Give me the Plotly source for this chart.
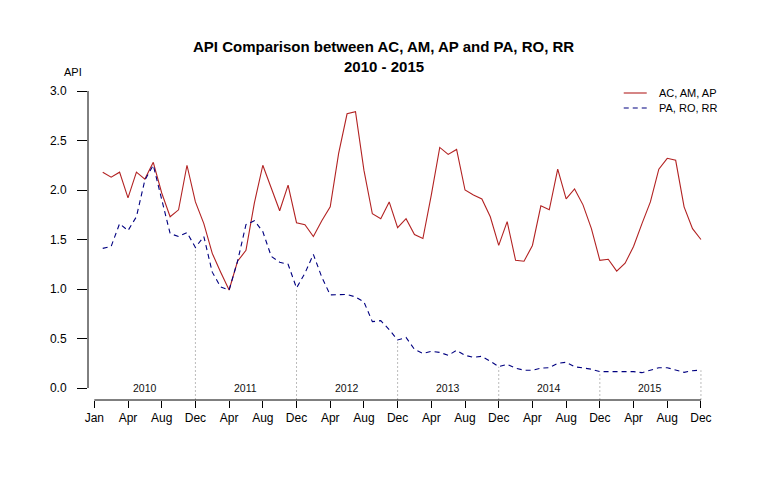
import plotly.graph_objects as go

# ---- data ----
months = list(range(1, 73))
ac_am_ap = [2.18, 2.13, 2.18, 1.92, 2.18, 2.11, 2.28, 1.97, 1.73, 1.80, 2.25, 1.88,
            1.66, 1.36, 1.17, 0.99, 1.28, 1.39, 1.87, 2.25, 2.02, 1.79, 2.05, 1.67,
            1.65, 1.53, 1.69, 1.83, 2.37, 2.77, 2.79, 2.20, 1.76, 1.71, 1.88, 1.62,
            1.71, 1.55, 1.51, 1.95, 2.43, 2.36, 2.41, 2.00, 1.95, 1.91, 1.73, 1.44,
            1.68, 1.29, 1.28, 1.44, 1.84, 1.80, 2.21, 1.91, 2.01, 1.85, 1.61, 1.29,
            1.30, 1.18, 1.26, 1.43, 1.66, 1.88, 2.21, 2.32, 2.30, 1.83, 1.61, 1.50]
pa_ro_rr = [1.41, 1.43, 1.66, 1.59, 1.73, 2.10, 2.25, 1.90, 1.56, 1.53, 1.57, 1.42,
            1.53, 1.17, 1.02, 0.99, 1.28, 1.65, 1.69, 1.58, 1.33, 1.27, 1.25, 1.01,
            1.16, 1.35, 1.12, 0.94, 0.94, 0.945, 0.92, 0.87, 0.67, 0.68, 0.59, 0.485,
            0.51, 0.39, 0.35, 0.37, 0.36, 0.33, 0.38, 0.33, 0.31, 0.32, 0.27, 0.215,
            0.24, 0.20, 0.18, 0.18, 0.20, 0.205, 0.25, 0.26, 0.215, 0.205, 0.19, 0.165,
            0.165, 0.165, 0.165, 0.165, 0.155, 0.18, 0.205, 0.205, 0.18, 0.158, 0.175, 0.18]
tick_pos = list(range(0, 73, 4))
tick_labels = ["Jan"] + ["Apr", "Aug", "Dec"] * 6
y_ticks = [0, 0.5, 1.0, 1.5, 2.0, 2.5, 3.0]
y_tick_labels = ["0.0", "0.5", "1.0", "1.5", "2.0", "2.5", "3.0"]
years = ["2010", "2011", "2012", "2013", "2014", "2015"]
year_pos = [6, 18, 30, 42, 54, 66]
dec_pos = [12, 24, 36, 48, 60, 72]
series_names = ["AC, AM, AP", "PA, RO, RR"]

# ---- layout geometry (page has an 8px body margin) ----
OFF = 8
W, H = 766, 498
L, T = 88 - OFF, 85 - OFF
R = W - (706.3 - OFF)
B = H - (400 - OFF)
XMIN, XMAX = -0.748, 72.6
YMIN, YMAX = -0.1212, 3.0606
PW, PH = W - L - R, H - T - B

def px(xpage):
    return (xpage - OFF - L) / PW

def py(ypage):
    return (H - B - (ypage - OFF)) / PH

def dx(v):
    return (v - XMIN) / (XMAX - XMIN)

def dy(v):
    return (v - YMIN) / (YMAX - YMIN)

RED = "#B22222"
NAVY = "#000080"
FONT = "Liberation Sans, Arial, sans-serif"

fig = go.Figure()
fig.add_trace(go.Scatter(x=months, y=ac_am_ap, mode="lines", name=series_names[0],
                         line=dict(color=RED, width=1.1), showlegend=False))
fig.add_trace(go.Scatter(x=months, y=pa_ro_rr, mode="lines", name=series_names[1],
                         line=dict(color=NAVY, width=1.1, dash="5px,4px"), showlegend=False))

shapes = []
for d in dec_pos:
    shapes.append(dict(type="line", xref="x", yref="y", x0=d, x1=d, y0=YMIN, y1=pa_ro_rr[d - 1],
                       line=dict(color="#BBBBBB", width=1, dash="2px,2px"), layer="below"))
shapes.append(dict(type="line", xref="paper", yref="paper", x0=0, x1=0, y0=dy(0), y1=dy(3.0),
                   line=dict(color="black", width=1)))
shapes.append(dict(type="line", xref="paper", yref="paper", x0=dx(0), x1=dx(72), y0=0, y1=0,
                   line=dict(color="black", width=1)))
shapes.append(dict(type="line", xref="paper", yref="paper", x0=px(624), x1=px(647), y0=py(93), y1=py(93),
                   line=dict(color=RED, width=1.1)))
shapes.append(dict(type="line", xref="paper", yref="paper", x0=px(624), x1=px(647), y0=py(108), y1=py(108),
                   line=dict(color=NAVY, width=1.1, dash="5px,4px")))

annotations = []
for yr, pos in zip(years, year_pos):
    annotations.append(dict(x=pos, y=0.0, xref="x", yref="y", text=yr, showarrow=False,
                            font=dict(size=10.5, color="#111", family=FONT), xanchor="center", yanchor="middle"))
annotations.append(dict(x=px(657), y=py(93), xref="paper", yref="paper", text=series_names[0], showarrow=False,
                        font=dict(size=11, color="black", family=FONT), xanchor="left", yanchor="middle"))
annotations.append(dict(x=px(657), y=py(108), xref="paper", yref="paper", text=series_names[1], showarrow=False,
                        font=dict(size=11, color="black", family=FONT), xanchor="left", yanchor="middle"))
annotations.append(dict(x=px(384), y=py(46), xref="paper", yref="paper",
                        text="<b>API Comparison between AC, AM, AP and PA, RO, RR</b>", showarrow=False,
                        font=dict(size=15, color="black", family=FONT), xanchor="center", yanchor="middle"))
annotations.append(dict(x=px(384), y=py(66), xref="paper", yref="paper",
                        text="<b>2010 - 2015</b>", showarrow=False,
                        font=dict(size=15, color="black", family=FONT), xanchor="center", yanchor="middle"))
annotations.append(dict(x=px(73), y=py(72), xref="paper", yref="paper", text="API", showarrow=False,
                        font=dict(size=11, color="black", family=FONT), xanchor="center", yanchor="middle"))

fig.update_layout(
    width=W, height=H,
    margin=dict(l=L, r=R, t=T, b=B, pad=0),
    paper_bgcolor="white", plot_bgcolor="white",
    font=dict(family=FONT, color="black", size=12),
    shapes=shapes, annotations=annotations,
    xaxis=dict(range=[XMIN, XMAX], tickmode="array", tickvals=tick_pos, ticktext=tick_labels,
               ticks="outside", ticklen=7, tickcolor="black", tickwidth=1,
               showgrid=False, zeroline=False, showline=False,
               tickfont=dict(size=12, color="black", family=FONT)),
    yaxis=dict(range=[YMIN, YMAX], tickmode="array", tickvals=y_ticks, ticktext=y_tick_labels,
               ticks="outside", ticklen=10, tickcolor="black", tickwidth=1,
               showgrid=False, zeroline=False, showline=False, ticklabelstandoff=8,
               tickfont=dict(size=12, color="black", family=FONT)),
    showlegend=False,
)

fig.write_html("out.html")
